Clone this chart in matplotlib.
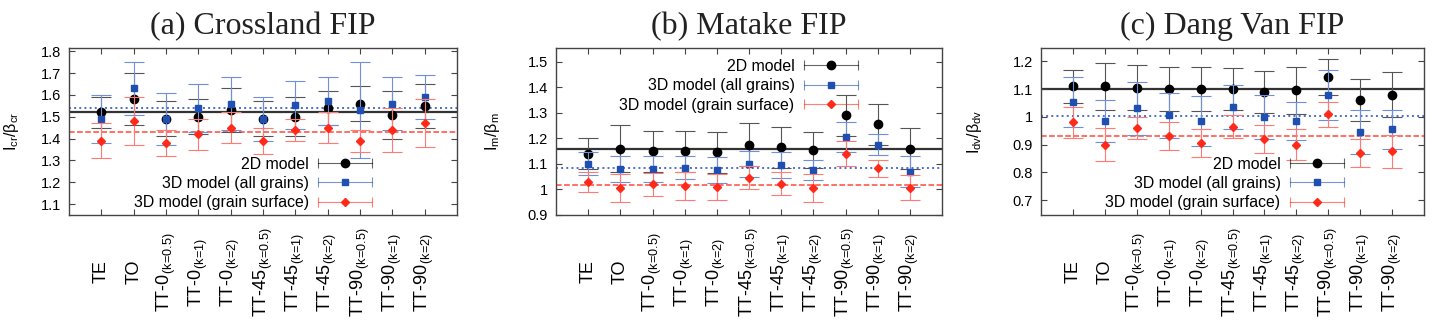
import matplotlib
matplotlib.use('Agg')
import numpy as np
import matplotlib.pyplot as plt
from matplotlib.lines import Line2D
from matplotlib.legend_handler import HandlerBase
from matplotlib.ticker import FormatStrFormatter

plt.rcParams['font.family'] = ['Liberation Sans', 'DejaVu Sans']
plt.rcParams['mathtext.fontset'] = 'custom'
plt.rcParams['mathtext.rm'] = 'Liberation Sans'
plt.rcParams['mathtext.it'] = 'Liberation Sans:italic'
plt.rcParams['mathtext.bf'] = 'Liberation Sans:bold'

#==========================================================
# Data
#==========================================================

cats = ['TE', 'TO',
        r'TT-0$_{\mathrm{(k\!=\!0.5)}}$', r'TT-0$_{\mathrm{(k\!=\!1)}}$', r'TT-0$_{\mathrm{(k\!=\!2)}}$',
        r'TT-45$_{\mathrm{(k\!=\!0.5)}}$', r'TT-45$_{\mathrm{(k\!=\!1)}}$', r'TT-45$_{\mathrm{(k\!=\!2)}}$',
        r'TT-90$_{\mathrm{(k\!=\!0.5)}}$', r'TT-90$_{\mathrm{(k\!=\!1)}}$', r'TT-90$_{\mathrm{(k\!=\!2)}}$']

series_names = ['2D model', '3D model (all grains)', '3D model (grain surface)']

# (a) Crossland
cr_2d = [1.52, 1.58, 1.49, 1.50, 1.53, 1.49, 1.50, 1.54, 1.56, 1.51, 1.55]
cr_2d_err = [0.07, 0.12, 0.08, 0.08, 0.10, 0.08, 0.09, 0.08, 0.08, 0.11, 0.10]
cr_all = [1.49, 1.63, 1.49, 1.54, 1.56, 1.49, 1.555, 1.57, 1.53, 1.56, 1.59]
cr_all_err = [0.11, 0.12, 0.12, 0.11, 0.12, 0.10, 0.11, 0.11, 0.22, 0.12, 0.10]
cr_surf = [1.39, 1.48, 1.38, 1.42, 1.45, 1.39, 1.44, 1.45, 1.39, 1.44, 1.47]
cr_surf_err = [0.08, 0.11, 0.06, 0.07, 0.07, 0.06, 0.05, 0.07, 0.05, 0.10, 0.11]
cr_means = [1.52, 1.54, 1.43]

# (b) Matake
m_2d = [1.14, 1.16, 1.15, 1.15, 1.145, 1.175, 1.165, 1.155, 1.29, 1.255, 1.16]
m_2d_err = [0.06, 0.09, 0.08, 0.08, 0.08, 0.085, 0.08, 0.07, 0.08, 0.08, 0.08]
m_all = [1.10, 1.08, 1.08, 1.085, 1.075, 1.10, 1.095, 1.075, 1.205, 1.175, 1.07]
m_all_err = [0.045, 0.05, 0.05, 0.045, 0.05, 0.05, 0.05, 0.04, 0.06, 0.04, 0.06]
m_surf = [1.03, 1.005, 1.02, 1.013, 1.01, 1.046, 1.023, 1.007, 1.14, 1.082, 1.007]
m_surf_err = [0.04, 0.055, 0.045, 0.055, 0.05, 0.045, 0.045, 0.055, 0.05, 0.035, 0.05]
m_means = [1.16, 1.085, 1.017]

# (c) Dang Van
dv_2d = [1.11, 1.11, 1.105, 1.10, 1.10, 1.10, 1.09, 1.095, 1.142, 1.06, 1.08]
dv_2d_err = [0.06, 0.085, 0.08, 0.08, 0.08, 0.075, 0.075, 0.085, 0.065, 0.075, 0.08]
dv_all = [1.055, 0.985, 1.03, 1.005, 0.985, 1.035, 1.0, 0.985, 1.08, 0.945, 0.955]
dv_all_err = [0.09, 0.075, 0.095, 0.08, 0.09, 0.08, 0.08, 0.07, 0.09, 0.08, 0.07]
dv_surf = [0.98, 0.90, 0.96, 0.93, 0.905, 0.965, 0.92, 0.90, 1.01, 0.87, 0.875]
dv_surf_err = [0.055, 0.06, 0.04, 0.05, 0.05, 0.04, 0.05, 0.055, 0.045, 0.05, 0.06]
dv_means = [1.10, 1.004, 0.93]

#==========================================================
# Legend handler that looks like a gnuplot errorbar sample
#==========================================================

class GnuErr(HandlerBase):
    def create_artists(self, legend, orig, xd, yd, w, h, fs, trans):
        c = orig.get_color()
        y = h / 2.0 - yd
        x0, x1 = -xd, w - xd
        ln = Line2D([x0, x1], [y, y], color=c, lw=0.8, alpha=0.6)
        caps = Line2D([x0, x1], [y, y], ls='none', marker='|', ms=7, mew=0.8, color=c, alpha=0.6)
        pt = Line2D([(x0 + x1) / 2.0], [y], ls='none', marker=orig.get_marker(),
                    ms=orig.get_markersize(), color=c)
        for a in (ln, caps, pt):
            a.set_transform(trans)
        return [ln, caps, pt]

#==========================================================
# Plot
#==========================================================

colors = ['#000000', '#1f4fb0', '#ff2a1a']
ecolors = ['#555555', '#6f8fd8', '#ff7a70']
markers = ['o', 's', 'D']
msizes = [6.0, 5.0, 4.4]
mline_styles = ['-', ':', '--']
mline_colors = ['#333333', '#4b6fd0', '#ff4a3a']
mline_widths = [1.6, 1.4, 1.1]

panels = [
    dict(title='(a) Crossland FIP', ylabel=r'$\mathrm{I_{cr}/\beta_{cr}}$',
         vals=[cr_2d, cr_all, cr_surf], errs=[cr_2d_err, cr_all_err, cr_surf_err],
         means=cr_means, ylim=(1.05, 1.815), yticks=np.arange(1.1, 1.81, 0.1),
         pos=[69, 457], leg=(0.781, 0.35), ylx=57),
    dict(title='(b) Matake FIP', ylabel=r'$\mathrm{I_{m}/\beta_{m}}$',
         vals=[m_2d, m_all, m_surf], errs=[m_2d_err, m_all_err, m_surf_err],
         means=m_means, ylim=(0.9, 1.553), yticks=np.arange(0.9, 1.51, 0.1),
         pos=[556, 942], leg=(0.782, 0.935), ylx=64),
    dict(title='(c) Dang Van FIP', ylabel=r'$\mathrm{I_{dv}/\beta_{dv}}$',
         vals=[dv_2d, dv_all, dv_surf], errs=[dv_2d_err, dv_all_err, dv_surf_err],
         means=dv_means, ylim=(0.646, 1.248), yticks=np.arange(0.7, 1.21, 0.1),
         pos=[1041, 1424], leg=(0.791, 0.35), ylx=67),
]

W, H = 1433, 324
fig = plt.figure(figsize=(W / 100.0, H / 100.0), dpi=100)
x = np.arange(1, len(cats) + 1)

for p in panels:
    left, right = p['pos']
    ax = fig.add_axes([left / W, (H - 215) / H, (right - left) / W, 167 / H])

    for i in range(3):
        ax.axhline(p['means'][i], color=mline_colors[i], ls=mline_styles[i],
                   lw=mline_widths[i], zorder=1)

    for i in range(3):
        ax.errorbar(x, p['vals'][i], yerr=p['errs'][i], fmt=markers[i], color=colors[i],
                    ms=msizes[i], ecolor=ecolors[i], elinewidth=0.8, capsize=7,
                    capthick=0.8, zorder=3 + i)

    ax.set_xlim(0, 12)
    ax.set_ylim(*p['ylim'])
    ax.set_yticks(p['yticks'])
    ax.yaxis.set_major_formatter(FormatStrFormatter('%g'))
    ax.set_xticks(x)
    ax.set_xticklabels(cats, rotation=90, va='center', ha='center', fontsize=13)
    ax.tick_params(axis='x', direction='in', top=True, length=4, pad=41, color='#444444')
    ax.tick_params(axis='y', direction='in', right=True, length=4, pad=6,
                   labelsize=10.5, color='#444444')
    for s in ax.spines.values():
        s.set_color('#444444')
        s.set_linewidth(1.0)

    ax.set_ylabel(p['ylabel'], fontsize=11.5, va='center')
    ax.yaxis.set_label_coords(-p['ylx'] / (right - left), 0.5)
    ax.set_title(p['title'], fontfamily='Liberation Serif', fontsize=23, pad=10, color='#222222')

    handles = [Line2D([], [], color=colors[i], marker=markers[i], ms=msizes[i])
               for i in range(3)]
    ax.legend(handles, series_names, loc='upper right', bbox_to_anchor=p['leg'],
              markerfirst=False, frameon=False, fontsize=11.4, borderpad=0,
              borderaxespad=0, handlelength=3.4, handletextpad=0.6, labelspacing=0.28,
              handler_map={Line2D: GnuErr()})

fig.savefig('out.png', dpi=100)
